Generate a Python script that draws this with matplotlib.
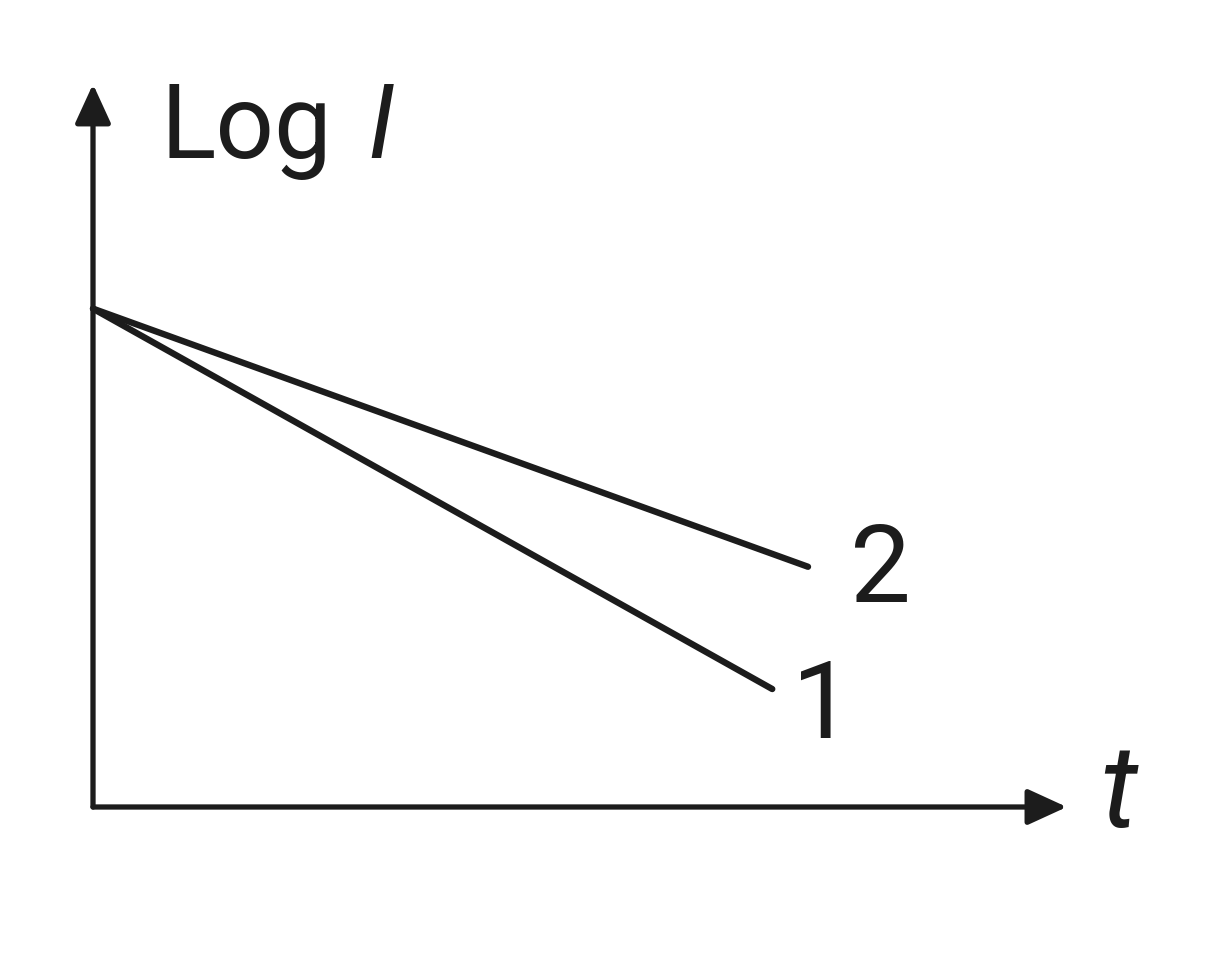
import matplotlib.pyplot as plt

plt.rcParams["font.family"] = ["Roboto", "DejaVu Sans"]

# data units: 1 unit = 71.5 px, origin at the axes corner
t_start = [0.0, 0.0]
t_end = [9.50, 10.0]
logi_start = [6.97, 6.97]
logi_end = [1.65, 3.36]
line_labels = ["1", "2"]
label_pos = [(10.2, 0.98), (11.02, 2.88)]

ink = "#1c1c1c"
s = 71.5

fig = plt.figure(figsize=(12.3, 9.78), dpi=100)
ax = fig.add_axes([0, 0, 1, 1])
ax.set_xlim(-93 / s, (1230 - 93) / s)
ax.set_ylim(-170 / s, 808 / s)
ax.axis("off")

# axes with arrows
arrow = dict(arrowstyle="-|>,head_length=24,head_width=11", mutation_scale=1,
             color=ink, lw=3.8, shrinkA=0, shrinkB=0)
ax.annotate("", xy=(13.62, 0), xytext=(0, 0), arrowprops=arrow)
ax.annotate("", xy=(0, 10.11), xytext=(0, 0), arrowprops=arrow)

for i in range(2):
    ax.plot([t_start[i], t_end[i]], [logi_start[i], logi_end[i]], color=ink,
            lw=4.6, solid_capstyle="round")
    ax.text(label_pos[i][0], label_pos[i][1], line_labels[i], fontsize=78,
            color=ink, ha="center", va="baseline")

ax.text(0.94, 9.09, "Log", fontsize=74, color=ink, ha="left", va="baseline")
ax.text(4.03, 9.09, "I", fontsize=74, color=ink, ha="center", va="baseline",
        style="italic")
ax.text(14.35, -0.27, "t", fontsize=84, color=ink, ha="center", va="baseline",
        style="italic")

fig.savefig("out.png", dpi=100)
